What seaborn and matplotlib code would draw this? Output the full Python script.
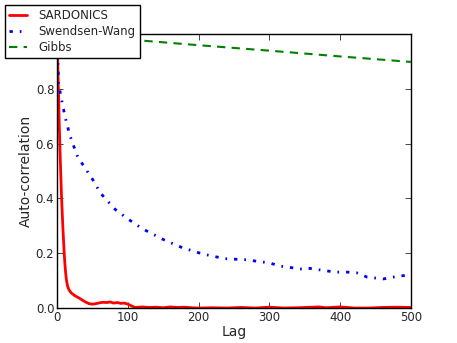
import numpy as np
import pandas as pd
import matplotlib.pyplot as plt
import seaborn as sns

# values
sard_lag = [0, 1, 2, 3, 4, 5, 6, 7, 8, 9, 10, 11, 12, 13, 14, 15, 17, 20, 25, 30, 35, 40,
            45, 50, 55, 60, 65, 70, 75, 80, 85, 90, 95, 100, 105, 110, 120, 130, 140, 150,
            160, 170, 180, 190, 200, 220, 240, 260, 280, 300, 320, 340, 360, 370, 380, 400,
            420, 440, 460, 480, 500]
sard_acf = [1.0, 0.88, 0.78, 0.67, 0.58, 0.5, 0.42, 0.36, 0.3, 0.25, 0.2, 0.16, 0.13, 0.105,
            0.09, 0.078, 0.065, 0.055, 0.045, 0.038, 0.03, 0.022, 0.016, 0.014, 0.016, 0.019,
            0.021, 0.02, 0.022, 0.018, 0.02, 0.017, 0.018, 0.014, 0.008, 0.002, 0.004, 0.002,
            0.003, 0.001, 0.004, 0.002, 0.003, 0.001, 0.0, 0.001, 0.0, 0.002, 0.0, 0.003,
            0.0, 0.001, 0.003, 0.004, 0.001, 0.004, 0.0, 0.0, 0.002, 0.003, 0.002]

sw_lag = [0, 2, 7, 12, 18, 28, 37, 50, 61, 82, 100, 120, 150, 177, 206, 237, 268, 284,
          301, 315, 346, 353, 393, 410, 424, 438, 461, 484, 500]
sw_acf = [1.0, 0.82, 0.75, 0.69, 0.63, 0.558, 0.52, 0.47, 0.42, 0.36, 0.325, 0.29, 0.25,
          0.22, 0.197, 0.18, 0.176, 0.17, 0.164, 0.153, 0.142, 0.146, 0.131, 0.131, 0.128,
          0.113, 0.106, 0.117, 0.12]

gibbs_lag = [0, 100, 200, 300, 400, 500]
gibbs_acf = [1.0, 0.98, 0.959, 0.939, 0.918, 0.898]

sns.set_style("white", {"xtick.direction": "in", "ytick.direction": "in",
                        "axes.edgecolor": "black"})
plt.rcParams["font.family"] = ["DejaVu Sans"]

fig = plt.figure(figsize=(4.57, 3.43), dpi=100)
ax = fig.add_axes([0.125, 0.102, 0.774, 0.799])

sns.lineplot(x=sard_lag, y=sard_acf, ax=ax, color="red", lw=2, label="SARDONICS")
sns.lineplot(x=sw_lag, y=sw_acf, ax=ax, color="blue", lw=2, label="Swendsen-Wang")
ax.lines[-1].set_linestyle((0, (1.2, 2.5, 0.6, 2.5)))
sns.lineplot(x=gibbs_lag, y=gibbs_acf, ax=ax, color="green", lw=1.5, label="Gibbs")
ax.lines[-1].set_linestyle((0, (4, 3)))

ax.set_xlim(0, 500)
ax.set_ylim(0, 1)
ax.set_xticks([0, 100, 200, 300, 400, 500])
ax.set_yticks([0.0, 0.2, 0.4, 0.6, 0.8, 1.0])
ax.set_yticklabels(["0.0", "0.2", "0.4", "0.6", "0.8", ""])
ax.tick_params(labelsize=8.5, length=4, width=0.6, pad=2,
               top=True, right=True, bottom=True, left=True)
for s in ax.spines.values():
    s.set_linewidth(1)
ax.set_xlabel("Lag", fontsize=10, labelpad=1)
ax.set_ylabel("Auto-correlation", fontsize=10, labelpad=2)

leg = ax.legend(loc="upper left", bbox_to_anchor=(5 / 457, 1 - 5 / 343),
                bbox_transform=fig.transFigure, fontsize=8.5, frameon=True,
                fancybox=False, handlelength=1.5, handletextpad=1.0,
                labelspacing=0.25, borderpad=0.35, borderaxespad=0)
leg.get_frame().set_edgecolor("black")
leg.get_frame().set_alpha(1)

fig.savefig("out.png", dpi=100)
